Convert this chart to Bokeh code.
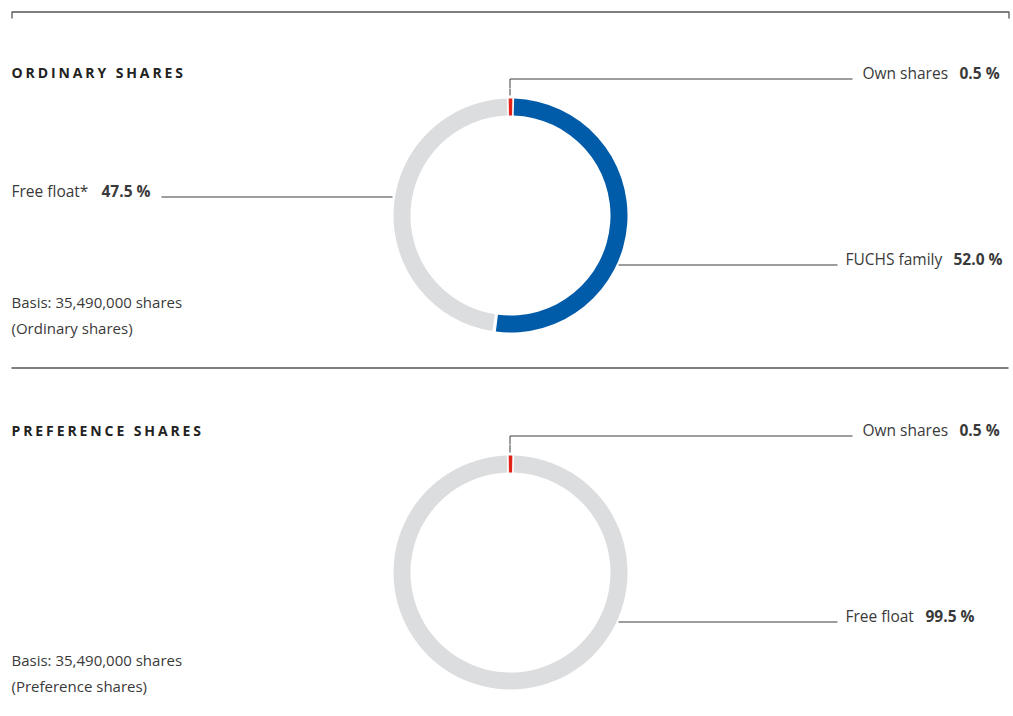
import math
from bokeh.plotting import figure
from bokeh.layouts import column, row
from bokeh.models import Range1d, Label, ColumnDataSource
from bokeh.embed import file_html
from bokeh.resources import INLINE

# ---------------- data ----------------
ord_title = "ORDINARY SHARES"
ord_labels = ["Own shares", "FUCHS family", "Free float*"]
ord_values = [0.5, 52.0, 47.5]
ord_value_text = ["0.5 %", "52.0 %", "47.5 %"]
ord_colors = ["#E2231A", "#005BA9", "#DCDDDF"]
ord_basis = ["Basis: 35,490,000 shares", "(Ordinary shares)"]

pref_title = "PREFERENCE SHARES"
pref_labels = ["Own shares", "Free float"]
pref_values = [0.5, 99.5]
pref_value_text = ["0.5 %", "99.5 %"]
pref_colors = ["#E2231A", "#DCDDDF"]
pref_basis = ["Basis: 35,490,000 shares", "(Preference shares)"]

# ---------------- layout ----------------
FONT = "Open Sans"
TXT = "#3a3a3a"
LINE = "#3c3c3c"
FRAME = "#555555"
R_OUT, R_IN = 117, 100
LBL = "15.5px"
SMALL = "15px"

FIGS = []   # list of (figure, (x0, x1, y0, y1))


def make_fig(x0, x1, y0, y1):
    f = figure(width=x1 - x0, height=y1 - y0, x_range=Range1d(x0, x1), y_range=Range1d(-y1, -y0),
               output_backend="svg", toolbar_location=None, x_axis_type=None, y_axis_type=None,
               min_border=0, background_fill_color="white", border_fill_color="white")
    f.grid.visible = False
    f.outline_line_color = None
    FIGS.append((f, (x0, x1, y0, y1)))
    return f


F0 = make_fig(0, 1013, 0, 60)
H1 = make_fig(0, 400, 60, 88)
R1 = make_fig(400, 1013, 60, 88)
F2 = make_fig(0, 1013, 88, 420)
H3 = make_fig(0, 400, 420, 444)
R3 = make_fig(400, 1013, 420, 444)
F4 = make_fig(0, 1013, 444, 716)
for h in (H1, H3):
    h.styles = {"letter-spacing": "2.9px"}


def fig_at(x, y):
    for f, (x0, x1, y0, y1) in FIGS:
        if x0 <= x < x1 and y0 <= y < y1:
            return f
    return FIGS[-1][0]


def label(x, py, text, size=LBL, bold=False, color=TXT):
    f = fig_at(x, py)
    f.add_layout(Label(x=x, y=-py, text=text, text_font=FONT, text_font_size=size,
                       text_font_style="bold" if bold else "normal", text_color=color,
                       text_baseline="middle", text_align="left"))


def poly(xs, pys, color=LINE, width=1):
    for f, (x0, x1, y0, y1) in FIGS:
        if max(xs) < x0 or min(xs) > x1 or max(pys) < y0 or min(pys) > y1:
            continue
        f.line(x=xs, y=[-v for v in pys], line_color=color, line_width=width)


def donut(f, cx, cy, values, colors):
    total = float(sum(values))
    a0 = math.pi / 2 + values[0] / total * math.pi  # first slice centred at the top
    gap = math.radians(0.9)
    starts, ends = [], []
    cum = 0.0
    for i, v in enumerate(values):
        s = a0 - cum / total * 2 * math.pi
        e = s - v / total * 2 * math.pi
        cum += v
        if i > 0:
            s -= gap
            e += gap
        starts.append(s)
        ends.append(e)
    src = ColumnDataSource(dict(x=[cx] * len(values), y=[-cy] * len(values),
                                start=starts, end=ends, color=colors))
    f.annular_wedge(x="x", y="y", inner_radius=R_IN, outer_radius=R_OUT,
                    start_angle="start", end_angle="end", direction="clock",
                    fill_color="color", line_color=None, source=src)


# frame lines
poly([11.5, 11.5, 1008.5, 1008.5], [18, 11.5, 11.5, 18], color=FRAME, width=1.3)
poly([11, 1008], [367.5, 367.5], color=FRAME, width=1.3)

# ---------- ordinary shares ----------
cx, cy1 = 510, 215
label(11, 72, ord_title, size="14px", bold=True, color="#222222")
donut(F2, cx, cy1, ord_values, ord_colors)
# own shares
poly([cx - 0.5, cx - 0.5, 852], [cy1 - R_OUT - 3, 78.5, 78.5])
label(862, 72, ord_labels[0])
label(959, 72, ord_value_text[0], bold=True)
# FUCHS family
poly([618, 837], [264.5, 264.5])
label(845, 258.5, ord_labels[1])
label(953, 258.5, ord_value_text[1], bold=True)
# free float
poly([161, 392], [196.5, 196.5])
label(11, 190, ord_labels[2])
label(101, 190, ord_value_text[2], bold=True)
# basis
label(11, 301.5, ord_basis[0], size=SMALL)
label(11, 327.5, ord_basis[1], size=SMALL)

# ---------- preference shares ----------
cy2 = 572
label(11, 429.5, pref_title, size="14px", bold=True, color="#222222")
donut(F4, cx, cy2, pref_values, pref_colors)
poly([cx - 0.5, cx - 0.5, 852], [cy2 - R_OUT - 3, 435.5, 435.5])
label(862, 429, pref_labels[0])
label(959, 429, pref_value_text[0], bold=True)
poly([618, 837], [621.5, 621.5])
label(845, 615, pref_labels[1])
label(925, 615, pref_value_text[1], bold=True)
label(11, 659.5, pref_basis[0], size=SMALL)
label(11, 685.5, pref_basis[1], size=SMALL)

layout = column(F0, row(H1, R1), F2, row(H3, R3), F4)
open("out.html", "w").write(file_html(layout, INLINE))
